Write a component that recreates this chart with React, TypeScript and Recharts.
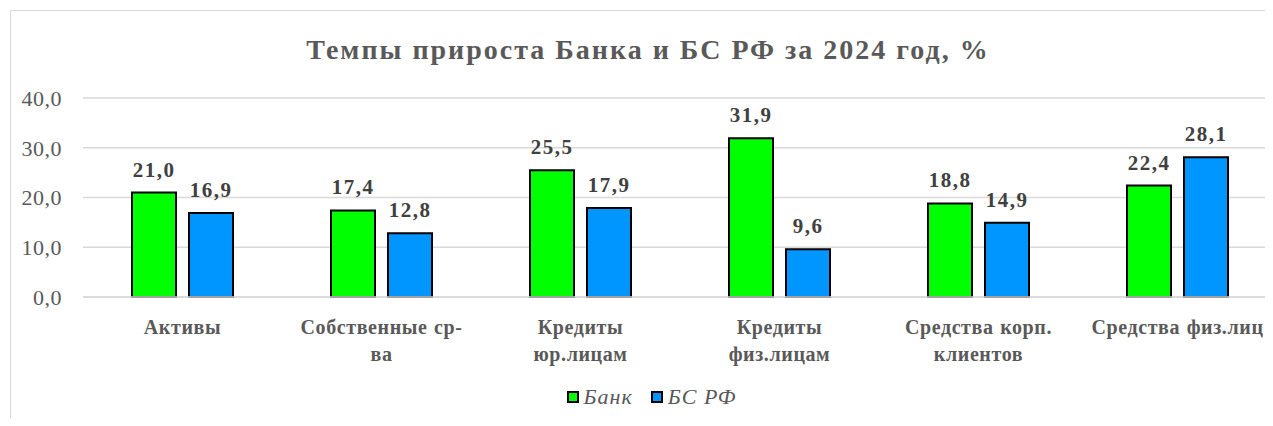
import { BarChart, Bar, XAxis, YAxis, CartesianGrid, Legend, LabelList } from "recharts";

const categories = [
  "Активы",
  "Собственные ср-\nва",
  "Кредиты\nюр.лицам",
  "Кредиты\nфиз.лицам",
  "Средства корп.\nклиентов",
  "Средства физ.лиц",
];
const bank = [21.0, 17.4, 25.5, 31.9, 18.8, 22.4];
const bsRf = [16.9, 12.8, 17.9, 9.6, 14.9, 28.1];
const yTicks = [0, 10, 20, 30, 40];

const seriesNames = { bank: "Банк", bsRf: "БС РФ" };
const COLORS = { bank: "#00ff00", bsRf: "#0096ff" };

const data = categories.map((name, i) => ({ name, bank: bank[i], bsRf: bsRf[i] }));

const FONT = "Liberation Serif, DejaVu Serif, serif";
const fmt = (v: number) => v.toFixed(1).replace(".", ",");

const CategoryTick = (props: any) => {
  const { x, y, payload } = props;
  const lines = String(payload.value).split("\n");
  return (
    <text
      x={x}
      y={y}
      textAnchor="middle"
      fill="#595959"
      style={{ fontFamily: FONT, fontWeight: 700, fontSize: 20, letterSpacing: 0.6, wordSpacing: 1 }}
    >
      {lines.map((line, i) => (
        <tspan key={i} x={x} dy={i === 0 ? 37 : 27}>
          {line}
        </tspan>
      ))}
    </text>
  );
};

const LegendBox = () => (
  <div
    style={{
      height: 24,
      display: "flex",
      justifyContent: "center",
      alignItems: "center",
      paddingLeft: 15,
      fontFamily: FONT,
      fontStyle: "italic",
      fontSize: 22,
      letterSpacing: 1,
      color: "#595959",
    }}
  >
    {(["bank", "bsRf"] as const).map((key, i) => (
      <span key={key} style={{ display: "flex", alignItems: "center", marginLeft: i ? 18 : 0 }}>
        <span
          style={{
            width: 8,
            height: 8,
            background: COLORS[key],
            border: "2px solid #000",
            display: "inline-block",
            marginRight: 5,
          }}
        />
        {seriesNames[key]}
      </span>
    ))}
  </div>
);

const labelStyle = { fill: "#404040", fontFamily: FONT, fontWeight: 700, fontSize: 21, letterSpacing: 1.5 };

const App = () => {
  return (
    <div style={{ margin: -8, width: 1273, height: 426, overflow: "hidden", position: "relative", background: "#fff" }}>
      <div
        style={{
          position: "absolute",
          left: 10,
          top: 10,
          width: 1276,
          height: 440,
          border: "1px solid #d9d9d9",
          boxSizing: "border-box",
        }}
      >
        <div
          style={{
            position: "absolute",
            left: 0,
            right: 0,
            top: 23,
            textAlign: "center",
            fontFamily: FONT,
            fontWeight: 700,
            fontSize: 28,
            letterSpacing: 2,
            lineHeight: "32px",
            color: "#595959",
          }}
        >
          Темпы прироста Банка и БС РФ за 2024 год, %
        </div>
        <BarChart
          width={1274}
          height={430}
          data={data}
          margin={{ top: 87, right: 8, bottom: 32, left: 0 }}
          barGap={13}
          barSize={44}
        >
          <CartesianGrid vertical={false} stroke="#d9d9d9" strokeWidth={1.5} />
          <XAxis
            dataKey="name"
            interval={0}
            height={88}
            tickLine={false}
            tickSize={0}
            tickMargin={0}
            axisLine={{ stroke: "#d9d9d9", strokeWidth: 1.5 }}
            tick={<CategoryTick />}
          />
          <YAxis
            width={72}
            domain={[0, 40]}
            ticks={yTicks}
            tickFormatter={fmt}
            axisLine={false}
            tickLine={false}
            tickSize={0}
            tickMargin={21}
            tick={{ fill: "#595959", style: { fontFamily: FONT, fontSize: 22, letterSpacing: 0.5 } }}
          />
          <Legend verticalAlign="bottom" content={<LegendBox />} />
          <Bar dataKey="bank" name={seriesNames.bank} fill={COLORS.bank} stroke="#000" strokeWidth={2} isAnimationActive={false}>
            <LabelList dataKey="bank" position="top" offset={16} formatter={(v: any) => fmt(Number(v))} style={labelStyle} />
          </Bar>
          <Bar dataKey="bsRf" name={seriesNames.bsRf} fill={COLORS.bsRf} stroke="#000" strokeWidth={2} isAnimationActive={false}>
            <LabelList dataKey="bsRf" position="top" offset={16} formatter={(v: any) => fmt(Number(v))} style={labelStyle} />
          </Bar>
        </BarChart>
      </div>
    </div>
  );
};

export default App;
